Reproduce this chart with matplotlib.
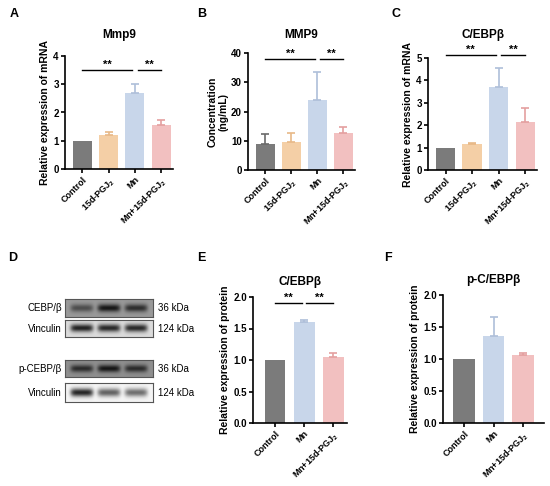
import numpy as np
import matplotlib
matplotlib.use("Agg")
import matplotlib.pyplot as plt

plt.rcParams['font.family'] = ['Liberation Sans', 'DejaVu Sans']
plt.rcParams['mathtext.fontset'] = 'custom'
plt.rcParams['mathtext.rm'] = 'Liberation Sans:bold'
plt.rcParams['mathtext.it'] = 'Liberation Sans:bold'
plt.rcParams['mathtext.bf'] = 'Liberation Sans:bold'

# --- data ---
groups4 = ['Control', '15d-PGJ$_2$', 'Mn', 'Mn+15d-PGJ$_2$']
groups3 = ['Control', 'Mn', 'Mn+15d-PGJ$_2$']

mmp9_mrna = [1.0, 1.2, 2.68, 1.55]
mmp9_mrna_err = [0.0, 0.1, 0.32, 0.2]

mmp9_conc = [9.0, 9.5, 24.0, 12.7]
mmp9_conc_err = [3.3, 3.0, 9.5, 2.0]

cebpb_mrna = [1.0, 1.15, 3.72, 2.15]
cebpb_mrna_err = [0.0, 0.07, 0.85, 0.6]

cebpb_prot = [1.0, 1.6, 1.04]
cebpb_prot_err = [0.0, 0.04, 0.07]

pcebpb_prot = [1.0, 1.36, 1.07]
pcebpb_prot_err = [0.0, 0.29, 0.03]

# blot band intensities per lane (Control, Mn, Mn+15d-PGJ2)
blot_rows = ['CEBP/β', 'Vinculin', 'p-CEBP/β', 'Vinculin']
blot_kda = ['36 kDa', '124 kDa', '36 kDa', '124 kDa']
blot_band = [[0.5, 0.85, 0.7], [0.85, 0.82, 0.82], [0.7, 0.85, 0.7], [0.85, 0.6, 0.55]]
blot_bg = [0.6, 0.86, 0.56, 0.96]

colors4 = ['#7b7b7b', '#f4cfa6', '#c8d6ea', '#f2c0c0']
err4 = ['#6a6a6a', '#e8b987', '#aebfd9', '#e49f9f']
colors3 = [colors4[0], colors4[2], colors4[3]]
err3 = [err4[0], err4[2], err4[3]]

W, H = 550, 486
fig = plt.figure(figsize=(5.5, 4.86), dpi=100)


def px_axes(x0, y0, x1, y1):
    return fig.add_axes([x0 / W, 1 - y1 / H, (x1 - x0) / W, (y1 - y0) / H])


def bar_panel(ax, labels, vals, errs, cols, ecols, ylim, yticks, xlim, title, ylabel,
              tpad=10, sig=None):
    x = np.arange(len(vals))
    ax.bar(x, vals, width=0.72, color=cols, zorder=2)
    for i in range(len(vals)):
        if errs[i] > 0:
            ax.errorbar(x[i], vals[i], yerr=[[0], [errs[i]]], fmt='none', ecolor=ecols[i],
                        elinewidth=1.2, capsize=3, capthick=1.2, zorder=3)
    ax.set_ylim(*ylim)
    ax.set_yticks(yticks)
    ax.set_xlim(*xlim)
    ax.set_xticks(x)
    ax.set_xticklabels(labels, rotation=45, ha='right', rotation_mode='anchor',
                       fontsize=6.5, fontweight='bold')
    for t in ax.get_yticklabels():
        t.set_fontsize(7)
        t.set_fontweight('bold')
    ax.spines['top'].set_visible(False)
    ax.spines['right'].set_visible(False)
    ax.spines['left'].set_linewidth(1.2)
    ax.spines['bottom'].set_linewidth(1.2)
    ax.tick_params(width=1.2, length=3, pad=1.5)
    ax.set_title(title, fontsize=8.5, fontweight='bold', pad=tpad)
    ax.set_ylabel(ylabel, fontsize=7.5, fontweight='bold', labelpad=2)
    if sig:
        for (a, b, y) in sig:
            ax.plot([a, b], [y, y], color='black', lw=1.0, clip_on=False)
            ax.text((a + b) / 2, y, '**', ha='center', va='bottom', fontsize=8,
                    fontweight='bold', clip_on=False)


# A
axA = px_axes(65, 56, 173, 169)
bar_panel(axA, groups4, mmp9_mrna, mmp9_mrna_err, colors4, err4, (0, 4), [0, 1, 2, 3, 4],
          (-0.66, 3.45), 'Mmp9', 'Relative expression of mRNA', tpad=13,
          sig=[(0, 1.9, 3.5), (2.1, 3, 3.5)])

# B
axB = px_axes(248, 53, 355, 170)
bar_panel(axB, groups4, mmp9_conc, mmp9_conc_err, colors4, err4, (0, 40), [0, 10, 20, 30, 40],
          (-0.66, 3.45), 'MMP9', 'Concentration\n(ng/mL)', tpad=11,
          sig=[(0, 1.9, 38), (2.1, 3, 38)])
axB.yaxis.label.set_linespacing(1.0)

# C
axC = px_axes(428, 58, 537, 170)
bar_panel(axC, groups4, cebpb_mrna, cebpb_mrna_err, colors4, err4, (0, 5), [0, 1, 2, 3, 4, 5],
          (-0.66, 3.45), 'C/EBPβ', 'Relative expression of mRNA', tpad=14.5,
          sig=[(0, 1.9, 5.15), (2.1, 3, 5.15)])

# E
axE = px_axes(253, 297, 347, 423)
bar_panel(axE, groups3, cebpb_prot, cebpb_prot_err, colors3, err3, (0, 2), [0, 0.5, 1.0, 1.5, 2.0],
          (-0.76, 2.48), 'C/EBPβ', 'Relative expression of protein', tpad=8.5,
          sig=[(0, 0.92, 1.9), (1.08, 2, 1.9)])
axE.set_yticklabels(['0.0', '0.5', '1.0', '1.5', '2.0'], fontsize=7, fontweight='bold')

# F
axF = px_axes(443, 295, 544, 423)
bar_panel(axF, groups3, pcebpb_prot, pcebpb_prot_err, colors3, err3, (0, 2), [0, 0.5, 1.0, 1.5, 2.0],
          (-0.71, 2.71), 'p-C/EBPβ', 'Relative expression of protein', tpad=8.5)
axF.set_yticklabels(['0.0', '0.5', '1.0', '1.5', '2.0'], fontsize=7, fontweight='bold')

# D: western blot strips
boxes = [(299, 317), (320, 337), (360, 377), (383, 402)]
xx = np.linspace(0, 1, 180)
yy = np.linspace(0, 1, 40)
lane_c = [0.19, 0.5, 0.81]
for k, (y0, y1) in enumerate(boxes):
    ax = px_axes(65, y0, 153, y1)
    img = np.full((yy.size, xx.size), blot_bg[k])
    prof_y = np.exp(-((yy - 0.5) / 0.22) ** 2)
    for c, amp in zip(lane_c, blot_band[k]):
        prof_x = np.exp(-((xx - c) / 0.13) ** 6)
        img -= amp * blot_bg[k] * np.outer(prof_y, prof_x)
    ax.imshow(img, cmap='gray', vmin=0, vmax=1, aspect='auto', interpolation='bilinear')
    ax.set_xticks([])
    ax.set_yticks([])
    for s in ax.spines.values():
        s.set_color('#555555')
        s.set_linewidth(0.8)
    yc = 1 - (y0 + y1) / 2 / H
    fig.text(62 / W, yc, blot_rows[k], ha='right', va='center', fontsize=7)
    fig.text(158 / W, yc, blot_kda[k], ha='left', va='center', fontsize=7)

# panel letters
for lab, x, y in [('A', 10, 14), ('B', 197, 14), ('C', 391, 14),
                  ('D', 8, 258), ('E', 197, 258), ('F', 384, 258)]:
    fig.text(x / W, 1 - y / H, lab, fontsize=9, fontweight='bold', ha='left', va='center')

fig.savefig('out.png', dpi=100)
